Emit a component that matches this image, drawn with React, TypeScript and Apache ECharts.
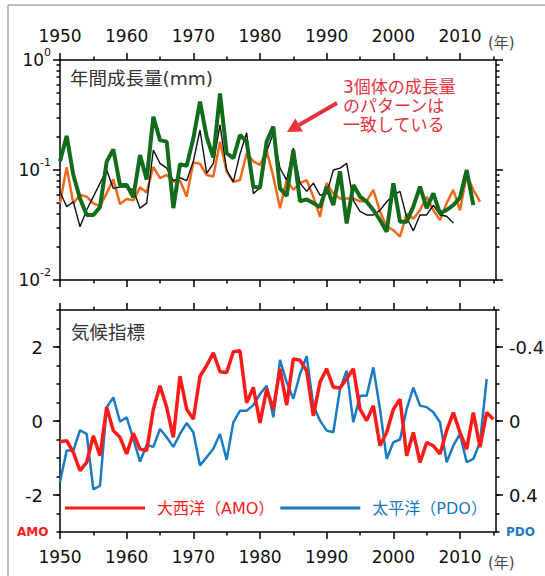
import React, { useEffect, useRef } from 'react';
import * as echarts from 'echarts';

// ---------- data ----------
const GROWTH_START = 1950;
// annual growth (mm), individual A (green, thick)
const growthGreen = [
  0.12, 0.204, 0.09, 0.055, 0.039, 0.039, 0.046, 0.119, 0.154, 0.073,
  0.073, 0.0565, 0.137, 0.082, 0.305, 0.187, 0.181, 0.045, 0.113, 0.109,
  0.194, 0.418, 0.2, 0.13, 0.497, 0.142, 0.128, 0.208, 0.181, 0.0705,
  0.069, 0.181, 0.248, 0.068, 0.058, 0.152, 0.052, 0.054, 0.05, 0.046,
  0.0705, 0.048, 0.097, 0.0327, 0.073, 0.0573, 0.0515, 0.0433, 0.0351, 0.0275,
  0.0757, 0.0339, 0.0339, 0.0464, 0.0705, 0.0449, 0.0614, 0.0404, 0.0433, 0.048,
  0.056, 0.1, 0.048,
];
// individual B (orange)
const growthOrange = [
  0.0498, 0.106, 0.0498, 0.0593, 0.0573, 0.0498, 0.047, 0.0614, 0.0822, 0.049,
  0.0544, 0.053, 0.0696, 0.0625, 0.107, 0.0843, 0.0901, 0.0786, 0.08, 0.0573,
  0.117, 0.114, 0.09, 0.0872, 0.181, 0.097, 0.078, 0.081, 0.142, 0.12,
  0.111, 0.15, 0.087, 0.045, 0.081, 0.066, 0.076, 0.081, 0.057, 0.0375,
  0.076, 0.061, 0.055, 0.055, 0.055, 0.052, 0.052, 0.066, 0.042, 0.0305,
  0.0284, 0.0248, 0.04, 0.036, 0.043, 0.057, 0.043, 0.035, 0.05, 0.066,
  0.043, 0.09, 0.066, 0.0515,
];
// individual C (black, thin)
const growthBlack = [
  0.0635, 0.0464, 0.0515, 0.0305, 0.0433, 0.0573, 0.0757, 0.1, 0.068, 0.07,
  0.07, 0.066, 0.045, 0.05, 0.152, 0.115, 0.104, 0.08, 0.085, 0.08,
  0.12, 0.231, 0.093, 0.115, 0.257, 0.1, 0.078, 0.14, 0.218, 0.061,
  0.069, 0.147, 0.216, 0.104, 0.081, 0.158, 0.076, 0.064, 0.076, 0.059,
  0.061, 0.1, 0.104, 0.115, 0.053, 0.042, 0.039, 0.039, 0.043, 0.0515,
  0.059, 0.064, 0.037, 0.028, 0.039, 0.039, 0.048, 0.039, 0.038, 0.033,
];

const INDEX_START = 1950;
// Atlantic Multidecadal Oscillation index
const amo = [
  -0.56, -0.53, -0.85, -1.34, -1.12, -0.4, -0.94, 0.37, -0.26, -0.44,
  -0.89, -0.33, -0.76, -0.8, 0.32, 0.95, 0.37, -0.44, 1.21, 0.32,
  0.05, 1.21, 1.5, 1.84, 1.33, 1.31, 1.87, 1.9, 0.49, 0.91,
  -0.05, 0.86, 0.32, 1.41, 0.43, 1.68, 1.64, 1.36, 0.14, 1.05,
  1.41, 0.91, 0.89, 1.14, 1.41, 0.32, 0.01, 0.41, -0.67, -0.31,
  0.32, 0.59, -0.94, -0.31, -1.12, -0.58, -0.67, -0.89, -0.26, 0.23,
  -0.31, -0.76, 0.23, -0.71, 0.23, 0.05,
];
// Pacific Decadal Oscillation index (plotted on inverted right axis)
const pdo = [
  0.33, 0.16, 0.16, 0.05, 0.07, 0.37, 0.35, -0.074, -0.128, 0.004,
  -0.02, 0.097, 0.22, 0.13, 0.14, 0.043, 0.088, 0.14, 0.07, 0.011,
  0.061, 0.24, 0.196, 0.15, 0.07, 0.21, 0.007, -0.056, -0.056, -0.086,
  -0.146, -0.19, -0.02, -0.33, -0.21, -0.12, -0.254, -0.35, -0.083, -0.002,
  0.052, 0.061, -0.173, -0.272, 0.007, -0.137, -0.137, -0.29, -0.065, 0.205,
  0.115, 0.1, -0.065, -0.18, -0.083, -0.075, -0.047, 0.007, 0.223, 0.133,
  0.07, 0.223, 0.205, 0.115, -0.227,
];

const yearTicks = [1950, 1960, 1970, 1980, 1990, 2000, 2010];
const yearMinorTicks = [1955, 1965, 1975, 1985, 1995, 2005, 2015];
const logDecades = [-2, -1, 0];
const amoTicks = [-2, 0, 2];
const pdoTicks = [-0.4, 0, 0.4];

const NAME_AMO = '大西洋（AMO）';
const NAME_PDO = '太平洋（PDO）';

// ---------- styles ----------
const FONT = '"DejaVu Sans", "Noto Sans CJK JP", sans-serif';
const C_GREEN = '#136b1c';
const C_ORANGE = '#f06a1e';
const C_BLACK = '#111111';
const C_RED = '#ff1a1a';
const C_BLUE = '#1a7bc4';
const C_NOTE = '#e8323c';
const X_MIN = 1950;
const X_MAX = 2015.4;

const axLine = { color: '#000', width: 1.5 };

const logMinor: number[] = [];
[-2, -1].forEach((e) => {
  for (let k = 2; k <= 9; k++) logMinor.push(Math.log10(k * Math.pow(10, e)));
});
const amoMinor: number[] = [];
for (let k = -6; k <= 6; k++) amoMinor.push(k / 2);
const pdoMinor: number[] = [];
for (let k = -6; k <= 6; k++) pdoMinor.push(k / 10);

function xAxisDef(grid: number, position: string, ticks: number[], len: number, withLabel: boolean, showLine: boolean) {
  return {
    type: 'value', gridIndex: grid, position, min: X_MIN, max: X_MAX,
    axisLine: { show: showLine, onZero: false, lineStyle: axLine },
    axisTick: { show: true, inside: false, length: len, customValues: ticks, lineStyle: axLine },
    axisLabel: withLabel
      ? { show: true, customValues: ticks, margin: 16, fontSize: 17, color: '#111', fontFamily: FONT,
          formatter: (v: number) => String(Math.round(v)) }
      : { show: false },
    splitLine: { show: false },
  };
}

function yAxisDef(grid: number, position: string, min: number, max: number, ticks: number[], len: number,
  label: any, showLine: boolean, inverse = false) {
  return {
    type: 'value', gridIndex: grid, position, min, max, inverse,
    axisLine: { show: showLine, onZero: false, lineStyle: axLine },
    axisTick: { show: true, inside: false, length: len, customValues: ticks, lineStyle: axLine },
    axisLabel: label ? { show: true, customValues: ticks, ...label } : { show: false },
    splitLine: { show: false },
  };
}

const pairs = (start: number, vals: number[], f: (v: number) => number = (v) => v) =>
  vals.map((v, i) => [start + i, f(v)]);

const option: any = {
  animation: false,
  backgroundColor: '#fff',
  grid: [
    { left: 60, top: 60, width: 436, height: 220, outerBoundsMode: 'none' },
    { left: 60, top: 310, width: 436, height: 222, outerBoundsMode: 'none' },
  ],
  xAxis: [
    xAxisDef(0, 'top', yearTicks, 7, true, true),
    xAxisDef(0, 'top', yearMinorTicks, 3.5, false, false),
    xAxisDef(0, 'bottom', yearTicks, 7, false, true),
    xAxisDef(0, 'bottom', yearMinorTicks, 3.5, false, false),
    xAxisDef(1, 'bottom', yearTicks, 7, true, true),
    xAxisDef(1, 'bottom', yearMinorTicks, 3.5, false, false),
    xAxisDef(1, 'top', yearTicks, 7, false, true),
    xAxisDef(1, 'top', yearMinorTicks, 3.5, false, false),
  ],
  yAxis: [
    yAxisDef(0, 'left', -2, 0, logDecades, 7, {
      margin: 9, color: '#111', fontFamily: FONT,
      formatter: (v: number) => `{b|10}{s|${Math.round(v)}}`,
      rich: {
        b: { fontSize: 17, lineHeight: 26, fontFamily: FONT, color: '#111' },
        s: { fontSize: 11, lineHeight: 11, verticalAlign: 'top', fontFamily: FONT, color: '#111' },
      },
    }, true),
    yAxisDef(0, 'left', -2, 0, logMinor, 3.5, null, false),
    yAxisDef(0, 'right', -2, 0, logDecades, 7, null, true),
    yAxisDef(0, 'right', -2, 0, logMinor, 3.5, null, false),
    yAxisDef(1, 'left', -3, 3, amoTicks, 7, {
      margin: 17, fontSize: 18, color: '#111', fontFamily: FONT,
      formatter: (v: number) => String(v),
    }, true),
    yAxisDef(1, 'left', -3, 3, amoMinor, 3.5, null, false),
    yAxisDef(1, 'right', -0.6, 0.6, pdoTicks, 7, {
      margin: 13, fontSize: 18, color: '#111', fontFamily: FONT,
      formatter: (v: number) => (Math.abs(v) < 1e-9 ? '0' : v.toFixed(1)),
    }, true, true),
    yAxisDef(1, 'right', -0.6, 0.6, pdoMinor, 3.5, null, false, true),
  ],
  legend: {
    left: 65, top: 499, padding: 0, itemWidth: 80, itemHeight: 3, itemGap: 6, icon: 'rect',
    selectedMode: false,
    textStyle: { fontSize: 16, fontFamily: FONT, lineHeight: 18, padding: [0, 0, 0, 7] },
    data: [
      { name: NAME_AMO, textStyle: { color: C_RED } },
      { name: NAME_PDO, textStyle: { color: C_BLUE } },
    ],
  },
  series: [
    {
      type: 'line', xAxisIndex: 0, yAxisIndex: 0, symbol: 'none', silent: true,
      data: pairs(GROWTH_START, growthOrange, Math.log10),
      lineStyle: { color: C_ORANGE, width: 2.5 }, itemStyle: { color: C_ORANGE }, z: 2,
    },
    {
      type: 'line', xAxisIndex: 0, yAxisIndex: 0, symbol: 'none', silent: true,
      data: pairs(GROWTH_START, growthBlack, Math.log10),
      lineStyle: { color: C_BLACK, width: 1.4 }, itemStyle: { color: C_BLACK }, z: 3,
    },
    {
      type: 'line', xAxisIndex: 0, yAxisIndex: 0, symbol: 'none', silent: true,
      data: pairs(GROWTH_START, growthGreen, Math.log10),
      lineStyle: { color: C_GREEN, width: 4 }, itemStyle: { color: C_GREEN }, z: 4,
    },
    {
      name: NAME_PDO, type: 'line', xAxisIndex: 4, yAxisIndex: 6, symbol: 'none', silent: true,
      data: pairs(INDEX_START, pdo),
      lineStyle: { color: C_BLUE, width: 2.5 }, itemStyle: { color: C_BLUE }, z: 2,
    },
    {
      name: NAME_AMO, type: 'line', xAxisIndex: 4, yAxisIndex: 4, symbol: 'none', silent: true,
      data: pairs(INDEX_START, amo),
      lineStyle: { color: C_RED, width: 3.5 }, itemStyle: { color: C_RED }, z: 3,
    },
  ],
  graphic: [
    { type: 'rect', silent: true, shape: { x: 8, y: 5, width: 600, height: 620 },
      style: { fill: 'none', stroke: '#808080', lineWidth: 1 } },
    { type: 'text', x: 70, y: 78, style: { text: '年間成長量(mm)', fill: '#333', font: `18.5px ${FONT}`, textAlign: 'left', textVerticalAlign: 'middle' } },
    { type: 'text', x: 71, y: 332, style: { text: '気候指標', fill: '#333', font: `18.5px ${FONT}`, textAlign: 'left', textVerticalAlign: 'middle' } },
    { type: 'text', x: 343, y: 77, style: { text: '3個体の成長量\nのパターンは\n一致している', fill: C_NOTE, font: `17px ${FONT}`, lineHeight: 19, textAlign: 'left', textVerticalAlign: 'top' } },
    { type: 'line', shape: { x1: 337, y1: 103, x2: 299, y2: 125 }, style: { stroke: C_NOTE, lineWidth: 4 } },
    { type: 'polygon', shape: { points: [[287, 132], [295.3, 118.5], [302.9, 131.5]] }, style: { fill: C_NOTE } },
    { type: 'text', x: 488, y: 43, style: { text: '(年)', fill: '#444', font: `15px ${FONT}`, textAlign: 'left', textVerticalAlign: 'middle' } },
    { type: 'text', x: 488, y: 563, style: { text: '(年)', fill: '#444', font: `15px ${FONT}`, textAlign: 'left', textVerticalAlign: 'middle' } },
    { type: 'text', x: 17, y: 532, style: { text: 'AMO', fill: '#ff1a1a', font: `bold 12px ${FONT}`, textAlign: 'left', textVerticalAlign: 'middle' } },
    { type: 'text', x: 506, y: 532, style: { text: 'PDO', fill: C_BLUE, font: `bold 12px ${FONT}`, textAlign: 'left', textVerticalAlign: 'middle' } },
  ],
};

export default function App() {
  const ref = useRef<HTMLDivElement>(null);
  useEffect(() => {
    if (!ref.current) return;
    const chart = echarts.init(ref.current, null, { renderer: 'svg' });
    chart.setOption(option);
    return () => chart.dispose();
  }, []);
  return (
    <div
      ref={ref}
      style={{ position: 'fixed', left: 0, top: 0, width: 545, height: 576, background: '#fff' }}
    />
  );
}
